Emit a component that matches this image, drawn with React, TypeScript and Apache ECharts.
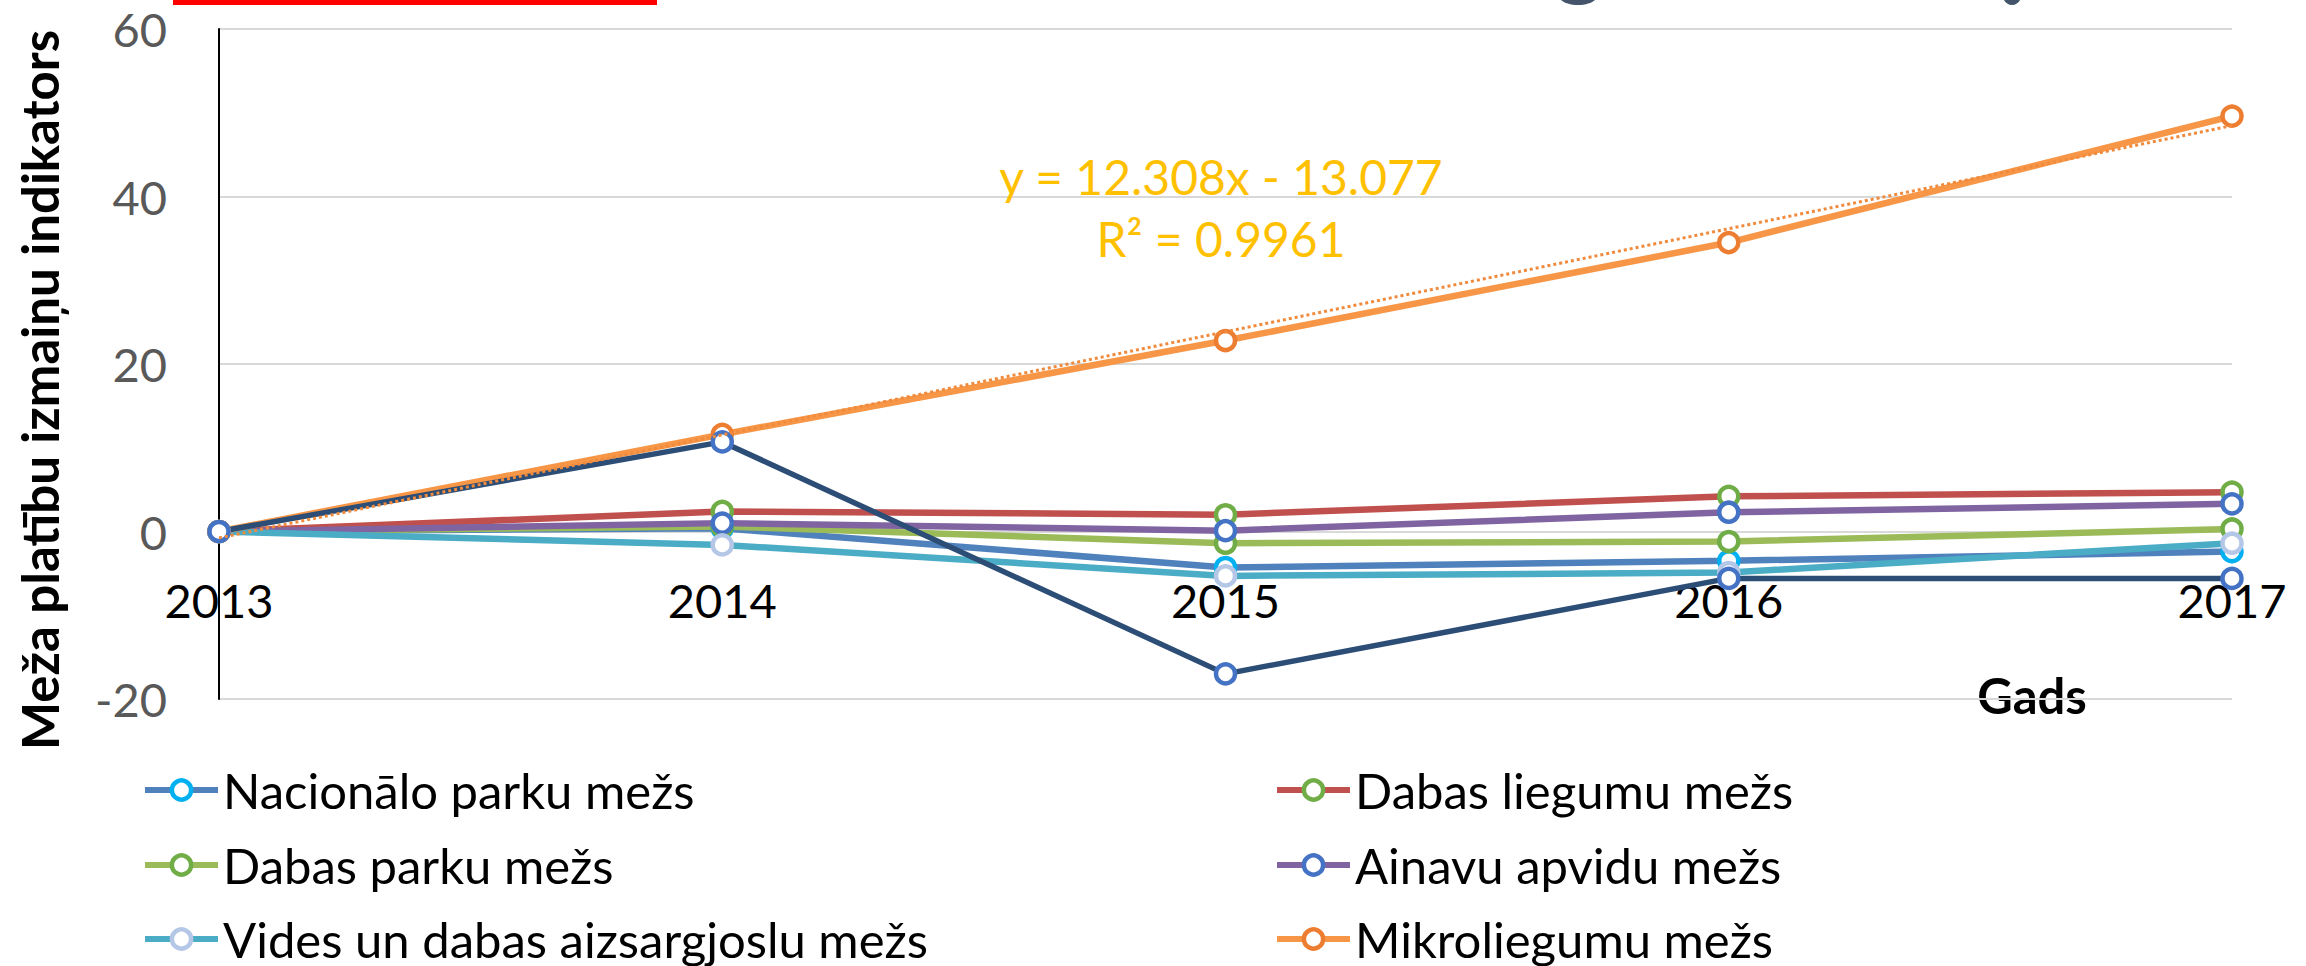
import React, { useEffect, useRef } from "react";
import * as echarts from "echarts";

const years = ["2013", "2014", "2015", "2016", "2017"];

const nacionaloParku = [0, 0.4, -4.3, -3.5, -2.4];
const dabasLiegumu = [0, 2.4, 2.0, 4.2, 4.7];
const dabasParku = [0, 0.6, -1.4, -1.2, 0.3];
const ainavuApvidu = [0, 1.0, 0.1, 2.3, 3.3];
const videsAizsargjoslu = [0, -1.6, -5.3, -4.9, -1.4];
const mikroliegumu = [0, 11.6, 22.8, 34.5, 49.6];
const dabasRezervatu = [0, 10.7, -17.0, -5.6, -5.6];

const trendSlope = 12.308;
const trendIntercept = -13.077;
const trendText = "y = 12.308x - 13.077";
const r2Text = "R² = 0.9961";

const yTicks = { min: -20, max: 60, interval: 20 };

const FONT = "Lato";

const seriesDefs = [
  { name: "Nacionālo parku mežs", data: nacionaloParku, line: "#4F81BD", marker: "#00B0F0", width: 6.5 },
  { name: "Dabas liegumu mežs", data: dabasLiegumu, line: "#C0504D", marker: "#70AD47", width: 6.5 },
  { name: "Dabas parku mežs", data: dabasParku, line: "#9BBB59", marker: "#70AD47", width: 6.5 },
  { name: "Ainavu apvidu mežs", data: ainavuApvidu, line: "#8064A2", marker: "#4472C4", width: 6.5 },
  { name: "Vides un dabas aizsargjoslu mežs", data: videsAizsargjoslu, line: "#4BACC6", marker: "#B4C7E7", width: 6.5 },
  { name: "Mikroliegumu mežs", data: mikroliegumu, line: "#F79646", marker: "#ED7D31", width: 6.5 },
  { name: "Dabas rezervātu mežs", data: dabasRezervatu, line: "#2C4D75", marker: "#4472C4", width: 5.5 },
];

// legend slots: [series index, column, row]
const legendSlots = [
  [0, 0, 0],
  [1, 1, 0],
  [2, 0, 1],
  [3, 1, 1],
  [4, 0, 2],
  [5, 1, 2],
];

export default function App() {
  const ref = useRef<HTMLDivElement>(null);
  useEffect(() => {
    if (!ref.current) return;
    const chart = echarts.init(ref.current, undefined, { renderer: "svg" });

    const trendData = years.map((_, i) =>
      i === 0 || i === years.length - 1 ? +(trendSlope * (i + 1) + trendIntercept).toFixed(3) : null
    );

    const colLeft = [142, 1274];
    const rowTop = [765, 840, 914];
    const legends = legendSlots.map(([si, c, r]) => ({
      orient: "horizontal",
      left: colLeft[c],
      top: rowTop[r],
      itemWidth: 73,
      itemHeight: 24,
      padding: 0,
      data: [seriesDefs[si].name],
      textStyle: { color: "#000", fontFamily: FONT, fontSize: 49, lineHeight: 50 },
      lineStyle: { width: 6 },
      itemStyle: { borderWidth: 4.5 },
    }));

    chart.setOption({
      animation: false,
      backgroundColor: "#fff",
      grid: { left: 219, right: 74, top: 29, bottom: 267, containLabel: false },
      xAxis: {
        type: "category",
        data: years,
        boundaryGap: false,
        position: "bottom",
        offset: -167,
        axisLine: { show: true, onZero: false, lineStyle: { color: "#D9D9D9", width: 2 } },
        axisTick: { show: false },
        axisLabel: { color: "#000", fontFamily: FONT, fontSize: 47, margin: 44 },
        splitLine: { show: false },
      },
      yAxis: {
        type: "value",
        min: yTicks.min,
        max: yTicks.max,
        interval: yTicks.interval,
        axisLine: { show: true, lineStyle: { color: "#000", width: 2 } },
        axisTick: { show: false },
        axisLabel: { color: "#595959", fontFamily: FONT, fontSize: 47, margin: 52 },
        splitLine: { show: true, lineStyle: { color: "#D9D9D9", width: 2 } },
      },
      legend: legends,
      series: [
        ...seriesDefs.map((s) => ({
          name: s.name,
          type: "line",
          data: s.data,
          symbol: "circle",
          symbolSize: 19,
          showSymbol: true,
          lineStyle: { color: s.line, width: s.width },
          itemStyle: { color: "#fff", borderColor: s.marker, borderWidth: 4.5 },
          emphasis: { disabled: true },
        })),
        {
          name: "Mikroliegumu trend",
          type: "line",
          data: trendData,
          connectNulls: true,
          symbol: "none",
          lineStyle: { color: "#F08A3C", width: 3, type: [3, 3] },
          emphasis: { disabled: true },
          z: 5,
        },
      ],
      graphic: [
        { type: "rect", shape: { x: 173, y: 0, width: 484, height: 5 }, style: { fill: "#FF0000" } },
        { type: "ellipse", shape: { cx: 1578, cy: -4, rx: 19, ry: 9 }, style: { fill: "#44546A" } },
        { type: "ellipse", shape: { cx: 2012, cy: -4, rx: 9, ry: 9 }, style: { fill: "#44546A" } },
        {
          type: "text",
          x: 39,
          y: 390,
          rotation: Math.PI / 2,
          style: {
            text: "Meža platību izmaiņu indikators",
            fill: "#000",
            font: `bold 51px ${FONT}`,
            align: "center",
            verticalAlign: "middle",
          },
        },
        {
          type: "text",
          x: 2032,
          y: 695,
          style: {
            text: "Gads",
            fill: "#000",
            font: `bold 49px ${FONT}`,
            align: "center",
            verticalAlign: "middle",
          },
        },
        {
          type: "text",
          x: 1221,
          y: 145,
          z: 10,
          style: {
            text: trendText + "\n" + r2Text,
            fill: "#FFC000",
            font: `48px ${FONT}`,
            lineHeight: 62,
            align: "center",
            verticalAlign: "top",
          },
        },
      ],
    });
    return () => chart.dispose();
  }, []);
  return (
    <div
      ref={ref}
      style={{ position: "fixed", left: 0, top: 0, width: 2306, height: 966, background: "#fff" }}
    />
  );
}
